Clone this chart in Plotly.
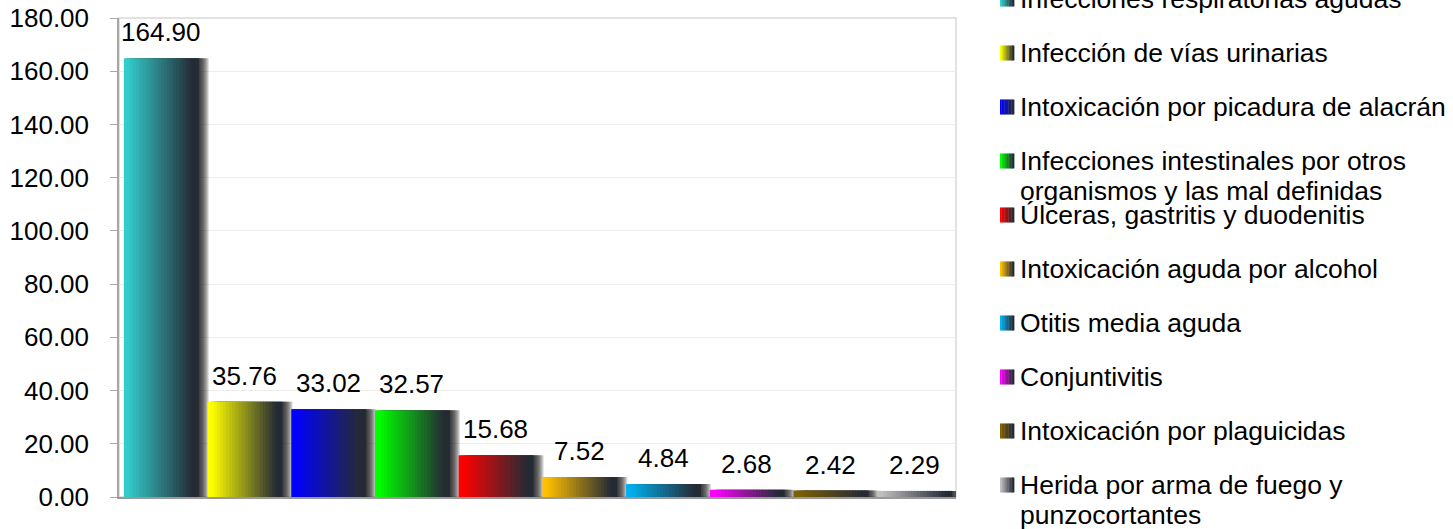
import plotly.graph_objects as go

# ---------------- data ----------------
categories = [
    "Infecciones respiratorias agudas",
    "Infección de vías urinarias",
    "Intoxicación por picadura de alacrán",
    "Infecciones intestinales por otros<br>organismos y las mal definidas",
    "Úlceras, gastritis y duodenitis",
    "Intoxicación aguda por alcohol",
    "Otitis media aguda",
    "Conjuntivitis",
    "Intoxicación por plaguicidas",
    "Herida por arma de fuego y<br>punzocortantes",
]
values = [164.90, 35.76, 33.02, 32.57, 15.68, 7.52, 4.84, 2.68, 2.42, 2.29]
tick_vals = [0, 20, 40, 60, 80, 100, 120, 140, 160, 180]
tick_text = ["0.00", "20.00", "40.00", "60.00", "80.00", "100.00",
             "120.00", "140.00", "160.00", "180.00"]

base_colors = ["#33CCCC", "#FFFF00", "#0000FF", "#00FF00", "#FF0000",
               "#FFC000", "#00B0F0", "#FF00FF", "#7F6000", "#C0C0C0"]
dark = (37, 43, 53)

# ---------------- layout helpers ----------------
W, H = 1453, 529
L, R, T, B = 119, 956, 18, 497
def xp(px):
    return (px - L) / (R - L)
def yp(py):
    return (B - py) / (B - T)

def hex2rgb(h):
    h = h.lstrip("#")
    return tuple(int(h[i:i + 2], 16) for i in (0, 2, 4))

def mix(c, t):
    r, g, b = hex2rgb(c)
    return "rgb(%d,%d,%d)" % (round(r + (dark[0] - r) * t),
                              round(g + (dark[1] - g) * t),
                              round(b + (dark[2] - b) * t))

def grad(t):
    return min(1.0, max(0.0, (t - 0.05) / 0.88))

x = list(range(len(values)))
bw = 0.884
unit_px = (R - L) / len(values)

fig = go.Figure()

# soft shadow (several translucent layers)
for shift in range(11, 0, -1):
    fig.add_trace(go.Bar(
        x=x, y=values, width=bw, offset=-bw / 2 + shift / unit_px,
        marker=dict(color="rgba(20,20,20,0.15)", line=dict(width=0)),
        showlegend=False, hoverinfo="skip"))

# gradient strips
N = 24
for i in range(N):
    t = (i + 0.5) / N
    fig.add_trace(go.Bar(
        x=x, y=values, width=bw / N * 1.3, offset=-bw / 2 + i * bw / N,
        marker=dict(color=[mix(c, grad(t)) for c in base_colors],
                    line=dict(width=0)),
        showlegend=False,
        customdata=[c.replace("<br>", " ") for c in categories],
        hovertemplate="%{customdata}: %{y:.2f}<extra></extra>"))

fam = "Liberation Sans, Arial, sans-serif"
fnt = dict(family=fam, size=26, color="#000000")
lfnt = dict(family=fam, size=26.5, color="#000000")

# value labels
for xi, v in zip(x, values):
    fig.add_annotation(x=xi, y=v, xref="x", yref="y", text="%.2f" % v,
                       showarrow=False, yanchor="middle", yshift=26, font=fnt)

# legend (text + gradient swatches)
leg_y0 = -1
leg_step = 54
line_gap = 30
for k, (cat, col) in enumerate(zip(categories, base_colors)):
    cy = leg_y0 + k * leg_step
    for j, line in enumerate(cat.split("<br>")):
        fig.add_annotation(x=xp(1018), y=yp(cy + j * line_gap), xref="paper",
                           yref="paper", text=line, showarrow=False,
                           xanchor="left", yanchor="middle", align="left",
                           font=lfnt)
    S = 10
    for s in range(S):
        t = (s + 0.5) / S
        fig.add_shape(type="rect", xref="paper", yref="paper",
                      x0=xp(1000 + s * 14 / S), x1=xp(1000 + (s + 1) * 14 / S + 0.4),
                      y0=yp(cy + 7.5), y1=yp(cy - 7.5),
                      fillcolor=mix(col, grad(t)), line=dict(width=0))

# plot border (top / right)
fig.add_shape(type="rect", xref="paper", yref="paper", x0=0, x1=1, y0=0, y1=1,
              line=dict(color="#D9D9D9", width=1.5), layer="below")

fig.update_layout(
    width=W, height=H,
    margin=dict(l=L, r=W - R, t=T, b=H - B, pad=0, autoexpand=False),
    barmode="overlay",
    paper_bgcolor="white", plot_bgcolor="white",
    font=fnt,
    showlegend=False,
    xaxis=dict(range=[-0.5, len(values) - 0.5], showticklabels=False,
               showgrid=False, zeroline=False, showline=True,
               linecolor="#999999", linewidth=1.5, ticks="", automargin=False),
    yaxis=dict(range=[0, 180], tickvals=tick_vals, ticktext=tick_text,
               showgrid=True, gridcolor="#ECECEC", gridwidth=1,
               zeroline=False, showline=True, linecolor="#A6A6A6",
               linewidth=1.5, ticks="outside", ticklen=7, automargin=False,
               tickcolor="#A6A6A6", ticklabelstandoff=16, tickfont=fnt),
)

fig.write_html("out.html",
               config={"displayModeBar": False},
               post_script="document.body.style.margin='0';"
                           "document.body.style.padding='0';"
                           "document.documentElement.style.overflow='hidden';")
